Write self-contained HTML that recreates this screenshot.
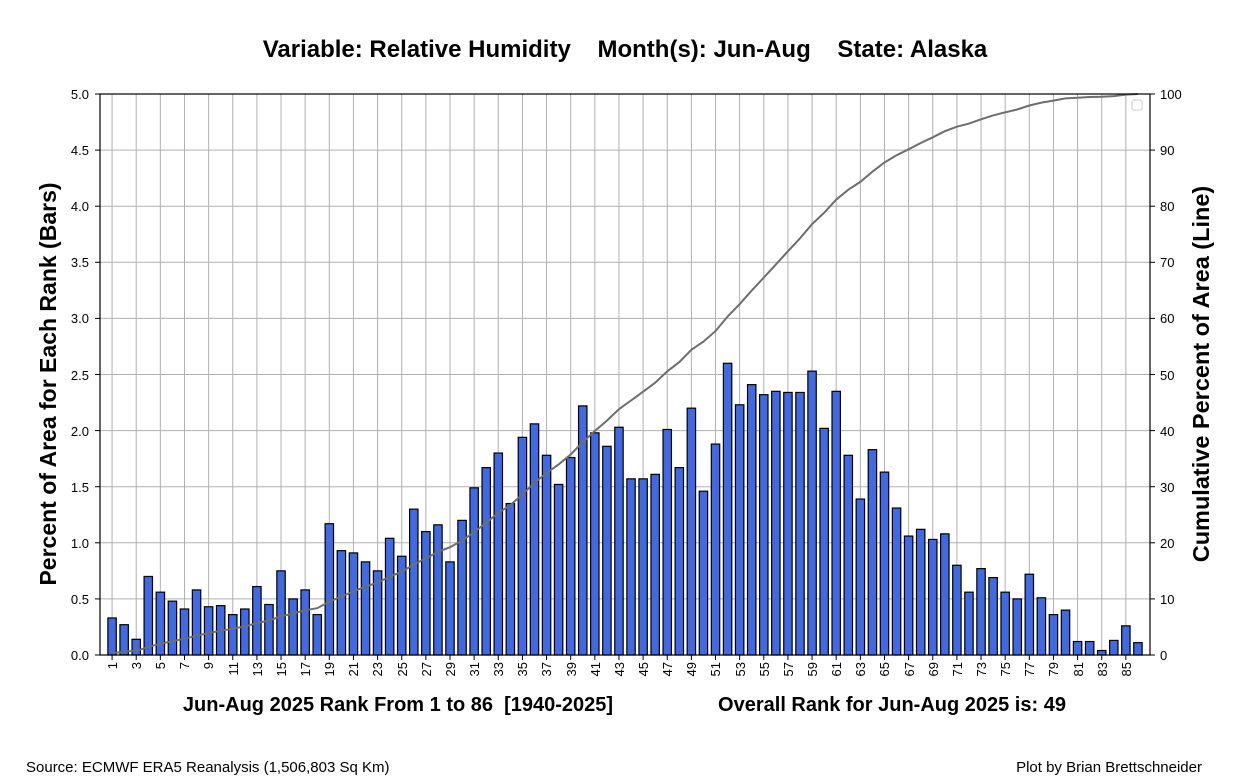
<!DOCTYPE html>
<html><head><meta charset="utf-8"><style>
html,body{margin:0;padding:0;background:#fff;}
svg{display:block;font-family:"Liberation Sans",Arial,sans-serif;}
text{white-space:pre;}
</style></head><body>
<svg id="s" width="1250" height="780" viewBox="0 0 1250 780" xmlns="http://www.w3.org/2000/svg" xml:space="preserve">
<rect width="1250" height="780" fill="#fff"/>
<g id="grid" stroke="#b0b0b0" stroke-width="1"></g>
<g id="bars"></g>
<polyline id="line" fill="none" stroke="#6e6e6e" stroke-width="2"/>
<rect x="100" y="94" width="1050" height="561" fill="none" stroke="#000" stroke-width="1.2"/>
<rect x="1132" y="100" width="10" height="10" rx="2" fill="#fff" stroke="#ccc"/>
<g id="ticks" stroke="#000"></g>
<text x="625" y="57" font-size="24" font-weight="bold" text-anchor="middle">Variable: Relative Humidity    Month(s): Jun-Aug    State: Alaska</text>
<g font-size="13" text-anchor="end">
<text x="89" y="660">0.0</text><text x="89" y="604">0.5</text><text x="89" y="548">1.0</text><text x="89" y="492">1.5</text><text x="89" y="436">2.0</text><text x="89" y="380">2.5</text><text x="89" y="323">3.0</text><text x="89" y="267">3.5</text><text x="89" y="211">4.0</text><text x="89" y="155">4.5</text><text x="89" y="99">5.0</text>
</g>
<g font-size="13" text-anchor="start">
<text x="1160" y="660">0</text><text x="1160" y="604">10</text><text x="1160" y="548">20</text><text x="1160" y="492">30</text><text x="1160" y="436">40</text><text x="1160" y="380">50</text><text x="1160" y="323">60</text><text x="1160" y="267">70</text><text x="1160" y="211">80</text><text x="1160" y="155">90</text><text x="1160" y="99">100</text>
</g>
<g font-size="13" text-anchor="end">
<text transform="translate(117,662) rotate(-90)">1</text><text transform="translate(141,662) rotate(-90)">3</text><text transform="translate(165,662) rotate(-90)">5</text><text transform="translate(189,662) rotate(-90)">7</text><text transform="translate(213,662) rotate(-90)">9</text><text transform="translate(238,662) rotate(-90)">11</text><text transform="translate(262,662) rotate(-90)">13</text><text transform="translate(286,662) rotate(-90)">15</text><text transform="translate(310,662) rotate(-90)">17</text><text transform="translate(334,662) rotate(-90)">19</text><text transform="translate(358,662) rotate(-90)">21</text><text transform="translate(382,662) rotate(-90)">23</text><text transform="translate(407,662) rotate(-90)">25</text><text transform="translate(431,662) rotate(-90)">27</text><text transform="translate(455,662) rotate(-90)">29</text><text transform="translate(479,662) rotate(-90)">31</text><text transform="translate(503,662) rotate(-90)">33</text><text transform="translate(527,662) rotate(-90)">35</text><text transform="translate(551,662) rotate(-90)">37</text><text transform="translate(576,662) rotate(-90)">39</text><text transform="translate(600,662) rotate(-90)">41</text><text transform="translate(624,662) rotate(-90)">43</text><text transform="translate(648,662) rotate(-90)">45</text><text transform="translate(672,662) rotate(-90)">47</text><text transform="translate(696,662) rotate(-90)">49</text><text transform="translate(720,662) rotate(-90)">51</text><text transform="translate(745,662) rotate(-90)">53</text><text transform="translate(769,662) rotate(-90)">55</text><text transform="translate(793,662) rotate(-90)">57</text><text transform="translate(817,662) rotate(-90)">59</text><text transform="translate(841,662) rotate(-90)">61</text><text transform="translate(865,662) rotate(-90)">63</text><text transform="translate(889,662) rotate(-90)">65</text><text transform="translate(914,662) rotate(-90)">67</text><text transform="translate(938,662) rotate(-90)">69</text><text transform="translate(962,662) rotate(-90)">71</text><text transform="translate(986,662) rotate(-90)">73</text><text transform="translate(1010,662) rotate(-90)">75</text><text transform="translate(1034,662) rotate(-90)">77</text><text transform="translate(1058,662) rotate(-90)">79</text><text transform="translate(1083,662) rotate(-90)">81</text><text transform="translate(1107,662) rotate(-90)">83</text><text transform="translate(1131,662) rotate(-90)">85</text>
</g>
<text transform="translate(56,384) rotate(-90)" font-size="23" font-weight="bold" text-anchor="middle">Percent of Area for Each Rank (Bars)</text>
<text transform="translate(1209,374) rotate(-90)" font-size="23.5" font-weight="bold" text-anchor="middle">Cumulative Percent of Area (Line)</text>
<text x="398" y="711" font-size="20" font-weight="bold" text-anchor="middle">Jun-Aug 2025 Rank From 1 to 86  [1940-2025]</text>
<text x="892" y="711" font-size="20" font-weight="bold" text-anchor="middle">Overall Rank for Jun-Aug 2025 is: 49</text>
<text x="26" y="772" font-size="15">Source: ECMWF ERA5 Reanalysis (1,506,803 Sq Km)</text>
<text x="1202" y="772" font-size="15" text-anchor="end">Plot by Brian Brettschneider</text>
</svg>
<script>
var v=[0.33,0.27,0.14,0.70,0.56,0.48,0.41,0.58,0.43,0.44,0.36,0.41,0.61,0.45,0.75,0.50,0.58,0.36,1.17,0.93,0.91,0.83,0.75,1.04,0.88,1.30,1.10,1.16,0.83,1.20,1.49,1.67,1.80,1.35,1.94,2.06,1.78,1.52,1.76,2.22,1.98,1.86,2.03,1.57,1.57,1.61,2.01,1.67,2.20,1.46,1.88,2.60,2.23,2.41,2.32,2.35,2.34,2.34,2.53,2.02,2.35,1.78,1.39,1.83,1.63,1.31,1.06,1.12,1.03,1.08,0.80,0.56,0.77,0.69,0.56,0.50,0.72,0.51,0.36,0.40,0.12,0.12,0.04,0.13,0.26,0.11];
var NS="http://www.w3.org/2000/svg",sx=1050/87,y0=655,sy=112.2;
function el(t,a,p){var e=document.createElementNS(NS,t);for(var k in a)e.setAttribute(k,a[k]);p.appendChild(e);}
var g=document.getElementById('grid'),b=document.getElementById('bars'),tk=document.getElementById('ticks');
for(var r=1;r<=85;r+=2){var x=100+r*sx;el('line',{x1:x,x2:x,y1:94,y2:655},g);el('line',{x1:x,x2:x,y1:655,y2:660},tk);}
for(var i=1;i<=9;i++){var y=y0-i*0.5*sy;el('line',{x1:100,x2:1150,y1:y,y2:y},g);}
for(var i=0;i<=10;i++){var y=y0-i*0.5*sy;el('line',{x1:95,x2:100,y1:y,y2:y},tk);el('line',{x1:1150,x2:1155,y1:y,y2:y},tk);}
var tot=v.reduce(function(a,c){return a+c},0),c=0,pts=[];
v.forEach(function(h,i){var x=100+(i+1)*sx;el('rect',{x:x-4.2,y:y0-h*sy,width:8.4,height:h*sy,fill:'#4169e1',stroke:'#000','stroke-width':1.2},b);c+=h;pts.push(x.toFixed(1)+','+(y0-c/tot*100*5.61).toFixed(1));});
document.getElementById('line').setAttribute('points',pts.join(' '));
</script>
</body></html>
